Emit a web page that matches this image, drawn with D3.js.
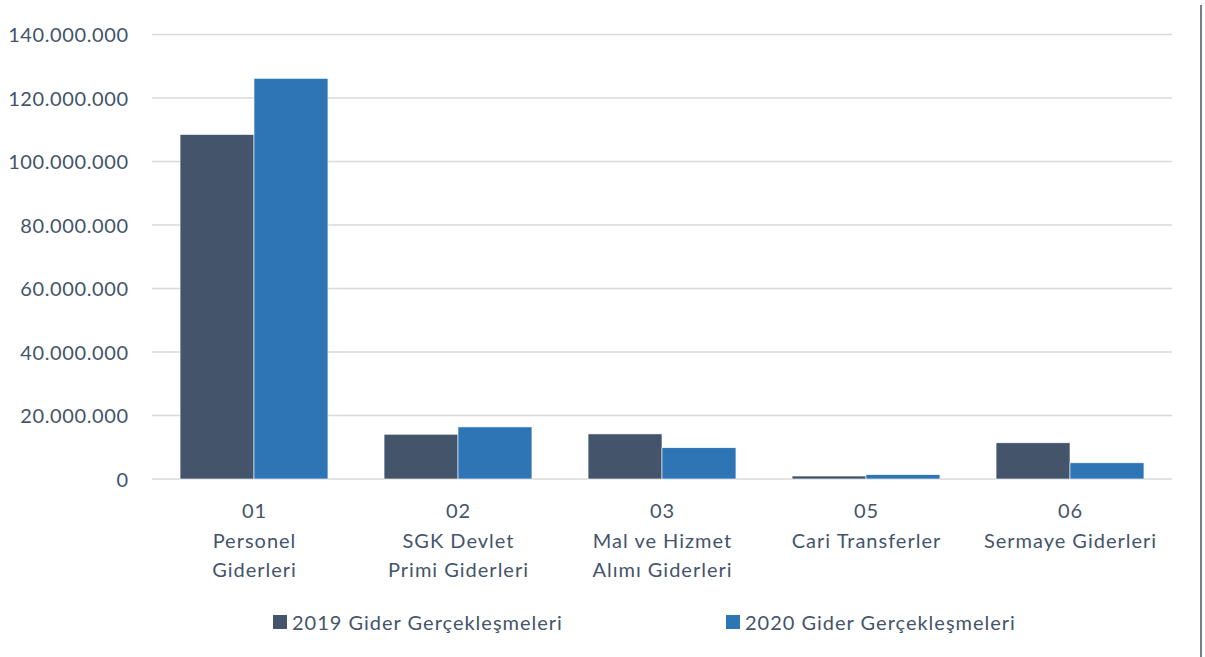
<!DOCTYPE html>
<html><head><meta charset="utf-8">
<script src="https://cdn.jsdelivr.net/npm/d3@7"></script>
<style>body{margin:0;background:#fff;}svg{display:block;}</style>
</head><body>
<svg id="c" width="1205" height="657"></svg>
<script>
const codes = ["01","02","03","05","06"];
const names = [["Personel","Giderleri"],["SGK Devlet","Primi Giderleri"],["Mal ve Hizmet","Alımı Giderleri"],["Cari Transferler"],["Sermaye Giderleri"]];
const series = ["2019 Gider Gerçekleşmeleri","2020 Gider Gerçekleşmeleri"];
const values2019 = [108500000, 14100000, 14200000, 940000, 11400000];
const values2020 = [126200000, 16400000, 9850000, 1350000, 5100000];
const yTicks = [0,20000000,40000000,60000000,80000000,100000000,120000000,140000000];
const colors = ["#44546A","#2E75B6"];

const svg = d3.select("#c");
const font = "Lato, 'Open Sans', sans-serif";
const textColor = "#44546A";
const L = 152, R = 1172, T = 34.5, B = 479;

const x = d3.scaleBand().domain(codes).range([L,R]).paddingInner(0.275).paddingOuter(0.1375);
const x1 = d3.scaleBand().domain(series).range([0, x.bandwidth()]);
const y = d3.scaleLinear().domain([0,140000000]).range([B,T]);
const fmt = v => d3.format(",")(v).replace(/,/g,".");

// gridlines
svg.append("g").selectAll("line").data(yTicks).join("line")
  .attr("x1",L).attr("x2",R).attr("y1",d=>y(d)).attr("y2",d=>y(d))
  .attr("stroke","#d9d9d9").attr("stroke-width",1.5);

// y axis labels
const yAxis = d3.axisLeft(y).tickValues(yTicks).tickFormat(fmt).tickSize(0).tickPadding(0);
const ga = svg.append("g").attr("transform",`translate(128.6,0)`).call(yAxis);
ga.select(".domain").remove();
ga.selectAll("text").attr("font-family",font).attr("font-size",20).attr("letter-spacing",0.6)
  .attr("fill",textColor).attr("dy","0.35em");

// bars
const data = codes.map((c,i)=>({code:c, vals:[values2019[i], values2020[i]]}));
const groups = svg.append("g").selectAll("g").data(data).join("g")
  .attr("transform",d=>`translate(${x(d.code)},0)`);
groups.selectAll("rect").data(d=>d.vals.map((v,j)=>({v, s:series[j], j}))).join("rect")
  .attr("x",d=>x1(d.s)).attr("width",x1.bandwidth())
  .attr("y",d=>y(d.v)).attr("height",d=>B-y(d.v))
  .attr("fill",d=>colors[d.j]).attr("stroke","#ffffff").attr("stroke-width",0.6);

// x labels
const xl = svg.append("g").selectAll("text").data(codes).join("text")
  .attr("x",d=>x(d)+x.bandwidth()/2).attr("y",518)
  .attr("text-anchor","middle").attr("font-family",font).attr("font-size",20)
  .attr("letter-spacing",1).attr("fill",textColor);
xl.each(function(d,i){
  const t = d3.select(this);
  const cx = x(d)+x.bandwidth()/2 + 0.5;
  t.append("tspan").attr("x",cx).attr("dy",0).text(d);
  names[i].forEach(n=>t.append("tspan").attr("x",cx).attr("dy",29.5).text(n));
});

// legend
const legX = [273, 726];
const lg = svg.append("g").selectAll("g").data(series).join("g")
  .attr("transform",(d,i)=>`translate(${legX[i]},615)`);
lg.append("rect").attr("width",14).attr("height",14).attr("fill",(d,i)=>colors[i]);
lg.append("text").attr("x",19).attr("y",14.5).text(d=>d)
  .attr("font-family",font).attr("font-size",20).attr("letter-spacing",1).attr("fill",textColor);

// right border line
svg.append("line").attr("x1",1201).attr("x2",1201).attr("y1",5).attr("y2",657)
  .attr("stroke","#44546A").attr("stroke-width",1.5);
</script>
</body></html>
